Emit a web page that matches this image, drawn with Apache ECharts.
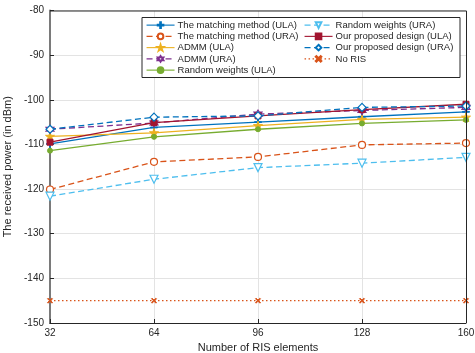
<!DOCTYPE html>
<html>
<head>
<meta charset="utf-8">
<script src="https://cdn.jsdelivr.net/npm/echarts@6/dist/echarts.min.js"></script>
<style>
  html, body { margin: 0; padding: 0; background: #fff; }
  #chart { width: 475px; height: 353px; }
</style>
</head>
<body>
<div id="chart"></div>
<script>
// Number of RIS elements on the horizontal axis
const risElements = [32, 64, 96, 128, 160];

// Received power (dBm) per scheme
const matchingULA = [-109.9, -106.2, -105.0, -103.8, -102.7];
const matchingURA = [-120.1, -113.9, -112.8, -110.1, -109.7];
const admmULA     = [-108.2, -107.4, -105.8, -104.4, -103.9];
const admmURA     = [-106.6, -105.2, -103.2, -102.4, -101.7];
const randomULA   = [-111.4, -108.3, -106.6, -105.3, -104.5];
const randomURA   = [-121.6, -117.8, -115.2, -114.2, -112.9];
const oursULA     = [-109.5, -105.1, -103.6, -102.2, -101.0];
const oursURA     = [-106.6, -103.9, -103.6, -101.7, -101.4];
const noRIS       = [-145, -145, -145, -145, -145];

const yTicks = { min: -150, max: -80, step: 10 };

const FONT = '"Liberation Sans", Arial, Helvetica, sans-serif';
const TXT = '#262626';

const SYM = {
  plus: 'path://M4.4,0H5.6V4.4H10V5.6H5.6V10H4.4V5.6H0V4.4H4.4Z',
  cross: 'path://M0,1.2L1.2,0L5,3.8L8.8,0L10,1.2L6.2,5L10,8.8L8.8,10L5,6.2L1.2,10L0,8.8L3.8,5Z',
  star: 'path://M5,0L6.18,3.62L10,3.62L6.91,5.86L8.09,9.5L5,7.26L1.91,9.5L3.09,5.86L0,3.62L3.82,3.62Z',
  hexa: 'path://M5,0L6.44,2.5L9.33,2.5L7.89,5L9.33,7.5L6.44,7.5L5,10L3.56,7.5L0.67,7.5L2.11,5L0.67,2.5L3.56,2.5Z'
};

function pairs(arr) { return risElements.map((x, i) => [x, arr[i]]); }

function mk(name, data, color, lineType, symbol, size, filled) {
  return {
    name: name,
    type: 'line',
    data: pairs(data),
    symbol: symbol,
    symbolSize: size,
    showAllSymbol: true,
    lineStyle: { color: color, width: 1.3, type: lineType },
    itemStyle: filled
      ? { color: color, borderColor: color, borderWidth: 1 }
      : { color: '#fff', borderColor: color, borderWidth: 1.2 },
    emphasis: { disabled: true },
    animation: false
  };
}

const DASH = [6, 3.5];
const DOT = [1.5, 2.5];

const series = [
  mk('The matching method (ULA)', matchingULA, '#0072BD', 'solid', SYM.plus, 7, true),
  mk('The matching method (URA)', matchingURA, '#D95319', DASH, 'circle', 7, false),
  mk('ADMM (ULA)', admmULA, '#EDB120', 'solid', SYM.star, 9, true),
  mk('ADMM (URA)', admmURA, '#7E2F8E', DASH, SYM.hexa, 8, false),
  mk('Random weights (ULA)', randomULA, '#77AC30', 'solid', 'circle', 5, true),
  mk('Random weights (URA)', randomURA, '#4DBEEE', DASH, 'triangle', 8, false),
  mk('Our proposed design (ULA)', oursULA, '#A2142F', 'solid', 'rect', 6, true),
  mk('Our proposed design (URA)', oursURA, '#0072BD', DASH, 'diamond', 8, false),
  mk('No RIS', noRIS, '#D95319', DOT, SYM.cross, 5, true)
];
// downward-pointing triangles for the URA random-weights curve
series[5].symbolRotate = 180;

const legendCommon = {
  orient: 'vertical',
  itemWidth: 28,
  itemHeight: 7,
  itemGap: 0,
  padding: 0,
  z: 10,
  selectedMode: false,
  lineStyle: { width: 1.1 },
  textStyle: { fontFamily: FONT, fontSize: 9.5, lineHeight: 11.25, color: TXT, padding: [0, 0, 0, -2] }
};

const option = {
  backgroundColor: '#fff',
  animation: false,
  grid: { left: 50, right: 9, top: 10.5, bottom: 30, show: false, outerBoundsMode: 'none', containLabel: false },
  graphic: [{
    type: 'rect',
    z: 5,
    shape: { x: 142, y: 17.5, width: 318, height: 60 },
    style: { fill: '#fff', stroke: '#262626', lineWidth: 1 }
  }],
  legend: [
    Object.assign({}, legendCommon, {
      left: 146, top: 19.5,
      data: series.slice(0, 5).map(s => s.name)
    }),
    Object.assign({}, legendCommon, {
      left: 304, top: 19.5,
      data: series.slice(5).map(s => s.name)
    })
  ],
  xAxis: {
    type: 'value',
    min: risElements[0],
    max: risElements[risElements.length - 1],
    interval: 32,
    name: 'Number of RIS elements',
    nameLocation: 'middle',
    nameGap: 18,
    nameTextStyle: { fontFamily: FONT, fontSize: 11, color: TXT },
    axisLine: { show: true, lineStyle: { color: '#262626', width: 1 } },
    axisTick: { show: true, inside: true, length: 4, lineStyle: { color: '#262626' } },
    axisLabel: { fontFamily: FONT, fontSize: 10, color: TXT, margin: 5 },
    splitLine: { show: true, lineStyle: { color: '#e3e3e3', width: 1 } }
  },
  yAxis: {
    type: 'value',
    min: yTicks.min,
    max: yTicks.max,
    interval: yTicks.step,
    name: 'The received power (in dBm)',
    nameLocation: 'middle',
    nameGap: 30,
    nameTextStyle: { fontFamily: FONT, fontSize: 11, color: TXT },
    axisLine: { show: true, lineStyle: { color: '#7a7a7a', width: 2 } },
    axisTick: { show: true, inside: true, length: 4, lineStyle: { color: '#262626' } },
    axisLabel: { fontFamily: FONT, fontSize: 10, color: TXT, margin: 6 },
    splitLine: { show: true, lineStyle: { color: '#e3e3e3', width: 1 } }
  },
  series: series
};

const chart = echarts.init(document.getElementById('chart'), null, { renderer: 'canvas' });
chart.setOption(option);

// box outline on the top and right edges of the plot area
const rect = chart.getModel().getComponent('grid').coordinateSystem.getRect();
chart.setOption({
  graphic: [
    option.graphic[0],
    {
      type: 'polyline', z: 4, silent: true,
      shape: { points: [[rect.x, rect.y + 0.5], [rect.x + rect.width + 0.5, rect.y + 0.5], [rect.x + rect.width + 0.5, rect.y + rect.height]] },
      style: { stroke: '#262626', lineWidth: 1, fill: null }
    }
  ]
});
</script>
</body>
</html>
